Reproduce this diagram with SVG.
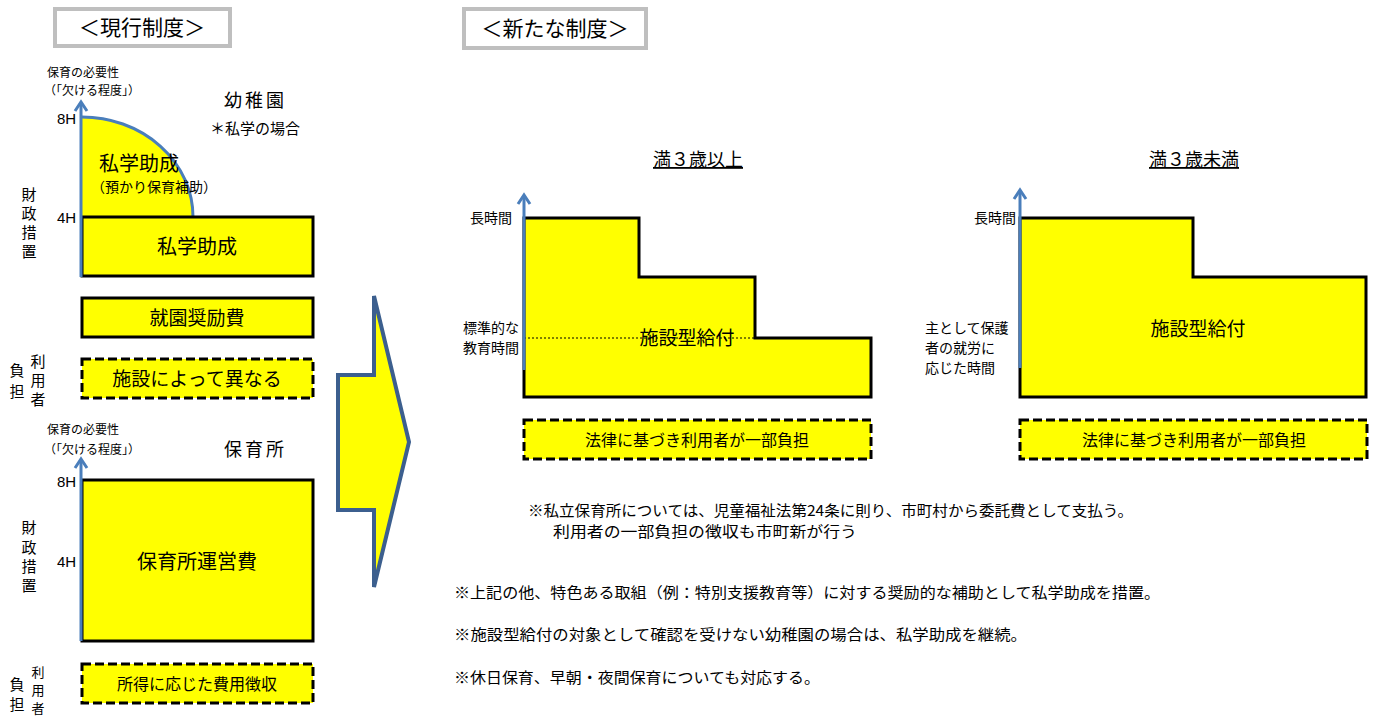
<svg xmlns="http://www.w3.org/2000/svg" width="1378" height="717" viewBox="0 0 1378 717">
<defs>
<style>
text{font-family:"Noto Sans CJK JP","Liberation Sans",sans-serif;fill:#000}
.mid{text-anchor:middle}
.end{text-anchor:end}
.lat{font-family:"Liberation Sans","Noto Sans CJK JP",sans-serif}
.box{fill:#ffff00;stroke:#000;stroke-width:3}
.dash{fill:#ffff00;stroke:#000;stroke-width:3;stroke-dasharray:9 4}
.title{fill:#fff;stroke:#bfbfbf;stroke-width:4}
.axis{stroke:#4a7ebb;stroke-width:3;fill:none}
.ah{stroke:#4a7ebb;stroke-width:3;fill:none;stroke-linejoin:miter}
</style>
</defs>
<rect width="1378" height="717" fill="#fff"/>

<g id="title-current">
<rect class="title" x="55" y="9" width="175" height="37"/>
<text class="mid" x="142" y="35" font-size="21">＜現行制度＞</text>
</g>
<g id="title-new">
<rect class="title" x="464" y="9" width="182" height="39"/>
<text class="mid" x="555" y="36" font-size="21">＜新たな制度＞</text>
</g>

<g id="kindergarten">
<text x="47" y="77" font-size="12">保育の必要性</text>
<text x="44" y="95" font-size="12">（「欠ける程度」）</text>
<text x="224" y="107" font-size="18" letter-spacing="3">幼稚園</text>
<text x="210" y="134" font-size="15">＊私学の場合</text>
<path d="M82,217 L82,117 A111,100 0 0,1 193,217 Z" fill="#ffff00"/>
<path d="M82,117 A111,100 0 0,1 193,217" class="axis" stroke-width="2.5"/>
<text x="99" y="171" font-size="20">私学助成</text>
<text x="91" y="192" font-size="14">（預かり保育補助）</text>
<rect class="box" x="82" y="217" width="231" height="59"/>
<text class="mid" x="197" y="254" font-size="20">私学助成</text>
<line class="axis" x1="81" y1="277" x2="81" y2="103"/>
<polyline class="ah" points="75,111 81,102 87,111"/>
<text class="lat" x="57" y="124" font-size="15">8H</text>
<text class="lat" x="57" y="223" font-size="15">4H</text>
<text class="mid" x="29" y="200" font-size="15">財</text>
<text class="mid" x="29" y="219" font-size="15">政</text>
<text class="mid" x="29" y="238" font-size="15">措</text>
<text class="mid" x="29" y="257" font-size="15">置</text>
</g>

<g id="enrollment-subsidy">
<rect class="box" x="82" y="298" width="231" height="39"/>
<text class="mid" x="197" y="325" font-size="19">就園奨励費</text>
</g>

<g id="kindergarten-user-burden">
<rect class="dash" x="82" y="359" width="231" height="39"/>
<text class="mid" x="197" y="386" font-size="19">施設によって異なる</text>
<text class="mid" x="17" y="376" font-size="15">負</text>
<text class="mid" x="17" y="397" font-size="15">担</text>
<text class="mid" x="38" y="367" font-size="15">利</text>
<text class="mid" x="38" y="386" font-size="15">用</text>
<text class="mid" x="38" y="405" font-size="15">者</text>
</g>

<g id="nursery">
<text x="47" y="434" font-size="12">保育の必要性</text>
<text x="44" y="454" font-size="12">（「欠ける程度」）</text>
<text x="224" y="456" font-size="18" letter-spacing="3">保育所</text>
<rect class="box" x="82" y="480" width="231" height="161"/>
<text class="mid" x="197" y="569" font-size="20">保育所運営費</text>
<line class="axis" x1="81" y1="641" x2="81" y2="460"/>
<polyline class="ah" points="75,468 81,459 87,468"/>
<text class="lat" x="57" y="487" font-size="15">8H</text>
<text class="lat" x="57" y="567" font-size="15">4H</text>
<text class="mid" x="29" y="533" font-size="15">財</text>
<text class="mid" x="29" y="553" font-size="15">政</text>
<text class="mid" x="29" y="572" font-size="15">措</text>
<text class="mid" x="29" y="591" font-size="15">置</text>
</g>

<g id="nursery-user-burden">
<rect class="dash" x="82" y="664" width="231" height="39"/>
<text class="mid" x="197" y="690" font-size="16">所得に応じた費用徴収</text>
<text class="mid" x="17" y="690" font-size="15">負</text>
<text class="mid" x="17" y="710" font-size="15">担</text>
<text class="mid" x="38" y="677" font-size="13">利</text>
<text class="mid" x="38" y="695" font-size="13">用</text>
<text class="mid" x="38" y="713" font-size="13">者</text>
</g>

<g id="transition-arrow">
<polygon points="338,375 374,375 374,296 409,442 374,587 374,510 338,510" fill="#ffff00" stroke="#3c5f8e" stroke-width="4" stroke-linejoin="miter"/>
</g>

<g id="age3-over">
<text class="mid" x="698" y="166" font-size="18" text-decoration="underline">満３歳以上</text>
<polygon class="box" points="524,218 639,218 639,277 755,277 755,338 871,338 871,397 524,397"/>
<line x1="524" y1="338" x2="755" y2="338" stroke="#000" stroke-width="1" stroke-dasharray="2 2"/>
<text class="mid" x="687" y="345" font-size="19">施設型給付</text>
<line class="axis" x1="524" y1="370" x2="524" y2="196"/>
<polyline class="ah" points="518,204 524,195 530,204"/>
<text class="end" x="512" y="223" font-size="14">長時間</text>
<text class="end" x="519" y="333" font-size="14">標準的な</text>
<text class="end" x="519" y="353" font-size="14">教育時間</text>
<rect class="dash" x="524" y="420" width="347" height="39"/>
<text class="mid" x="697" y="446" font-size="16">法律に基づき利用者が一部負担</text>
</g>

<g id="age3-under">
<text class="mid" x="1194" y="166" font-size="18" text-decoration="underline">満３歳未満</text>
<polygon class="box" points="1020,218 1193,218 1193,277 1366,277 1366,397 1020,397"/>
<text class="mid" x="1198" y="336" font-size="19">施設型給付</text>
<line class="axis" x1="1020" y1="368" x2="1020" y2="191"/>
<polyline class="ah" points="1014,199 1020,190 1026,199"/>
<text class="end" x="1016" y="223" font-size="14">長時間</text>
<text x="925" y="333" font-size="14">主として保護</text>
<text x="925" y="353" font-size="14">者の就労に</text>
<text x="925" y="373" font-size="14">応じた時間</text>
<rect class="dash" x="1020" y="420" width="347" height="39"/>
<text class="mid" x="1194" y="446" font-size="16">法律に基づき利用者が一部負担</text>
</g>

<g id="notes">
<text x="528" y="516" font-size="15" textLength="605" lengthAdjust="spacingAndGlyphs">※私立保育所については、児童福祉法第24条に則り、市町村から委託費として支払う。</text>
<text x="553" y="537" font-size="15" textLength="304" lengthAdjust="spacingAndGlyphs">利用者の一部負担の徴収も市町新が行う</text>
<text x="454" y="598" font-size="15" textLength="706" lengthAdjust="spacingAndGlyphs">※上記の他、特色ある取組（例：特別支援教育等）に対する奨励的な補助として私学助成を措置。</text>
<text x="454" y="640" font-size="15" textLength="573" lengthAdjust="spacingAndGlyphs">※施設型給付の対象として確認を受けない幼稚園の場合は、私学助成を継続。</text>
<text x="454" y="683" font-size="15" textLength="366" lengthAdjust="spacingAndGlyphs">※休日保育、早朝・夜間保育についても対応する。</text>
</g>
</svg>
